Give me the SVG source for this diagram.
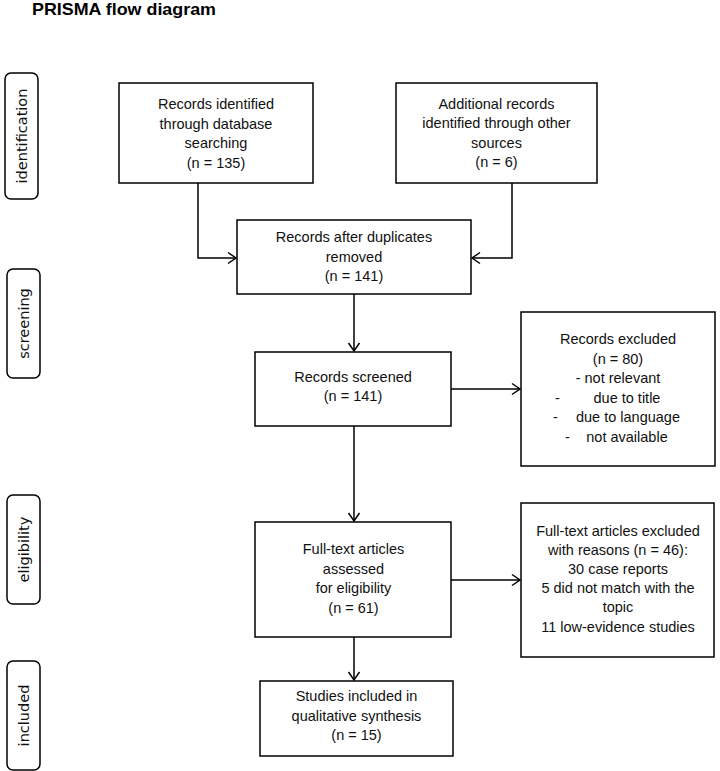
<svg xmlns="http://www.w3.org/2000/svg" width="720" height="771" viewBox="0 0 720 771">
<style>
.bg{fill:#fff}
.box{fill:#fff;stroke:#000;stroke-width:1.5}
.lab{fill:#fff;stroke:#000;stroke-width:1.5}
.t{font-family:"Liberation Sans",Arial,sans-serif;font-size:14.5px;fill:#111;text-anchor:middle}
.d{font-family:"Liberation Sans",Arial,sans-serif;font-size:14.5px;fill:#111}
.st{font-family:"DejaVu Sans",Verdana,sans-serif;font-size:14.5px;fill:#111;text-anchor:middle}
.title{font-family:"Liberation Sans",Arial,sans-serif;font-size:17px;font-weight:bold;fill:#000}
.c{fill:none;stroke:#000;stroke-width:1.5}
</style>
<defs>
<marker id="arr" markerWidth="12" markerHeight="14" viewBox="-10 -7 12 14" refX="0" refY="0" orient="auto" markerUnits="userSpaceOnUse">
<path d="M-8,-5.5 L0,0 L-8,5.5" fill="none" stroke="#000" stroke-width="1.5"/>
</marker>
</defs>
<rect class="bg" x="0" y="0" width="720" height="771"/>
<text class="title" x="32" y="15" textLength="184" lengthAdjust="spacingAndGlyphs">PRISMA flow diagram</text>

<g id="stage-identification">
<rect class="lab" x="5" y="73" width="33" height="126" rx="6"/>
<text class="st" transform="translate(27,136) rotate(-90)">identification</text>
</g>
<g id="stage-screening">
<rect class="lab" x="7" y="269" width="33" height="109" rx="6"/>
<text class="st" transform="translate(29,323.5) rotate(-90)">screening</text>
</g>
<g id="stage-eligibility">
<rect class="lab" x="7" y="495" width="33" height="109" rx="6"/>
<text class="st" transform="translate(29,549.5) rotate(-90)">eligibility</text>
</g>
<g id="stage-included">
<rect class="lab" x="7" y="661" width="33" height="109" rx="6"/>
<text class="st" transform="translate(29,715.5) rotate(-90)">included</text>
</g>

<g id="connectors">
<path class="c" d="M198,183 V258 H236" marker-end="url(#arr)"/>
<path class="c" d="M512,183 V258 H472" marker-end="url(#arr)"/>
<path class="c" d="M354,294 V351" marker-end="url(#arr)"/>
<path class="c" d="M451,389 H520" marker-end="url(#arr)"/>
<path class="c" d="M354,426 V521" marker-end="url(#arr)"/>
<path class="c" d="M451,580 H520" marker-end="url(#arr)"/>
<path class="c" d="M354,637 V680" marker-end="url(#arr)"/>
</g>

<g id="db-records">
<rect class="box" x="119" y="83" width="194" height="100"/>
<text class="t" x="216" y="109">Records identified</text>
<text class="t" x="216" y="128.5">through database</text>
<text class="t" x="216" y="148">searching</text>
<text class="t" x="216" y="167.5">(n = 135)</text>
</g>
<g id="other-records">
<rect class="box" x="396" y="83" width="201" height="100"/>
<text class="t" x="496.5" y="108.5">Additional records</text>
<text class="t" x="496.5" y="128">identified through other</text>
<text class="t" x="496.5" y="147.5">sources</text>
<text class="t" x="496.5" y="167">(n = 6)</text>
</g>
<g id="after-duplicates">
<rect class="box" x="237" y="220" width="234" height="74"/>
<text class="t" x="354" y="242">Records after duplicates</text>
<text class="t" x="354" y="261.5">removed</text>
<text class="t" x="354" y="281">(n = 141)</text>
</g>
<g id="screened">
<rect class="box" x="255" y="352" width="196" height="74"/>
<text class="t" x="353" y="381.5">Records screened</text>
<text class="t" x="353" y="400.5">(n = 141)</text>
</g>
<g id="excluded">
<rect class="box" x="521" y="312" width="194" height="154"/>
<text class="t" x="618" y="344">Records excluded</text>
<text class="t" x="618" y="363.5">(n = 80)</text>
<text class="t" x="618" y="383">- not relevant</text>
<text class="d" x="555" y="402.5">-</text>
<text class="t" x="627" y="402.5">due to title</text>
<text class="d" x="553" y="422">-</text>
<text class="t" x="628" y="422">due to language</text>
<text class="d" x="565" y="441.5">-</text>
<text class="t" x="627" y="441.5">not available</text>
</g>
<g id="fulltext">
<rect class="box" x="255" y="522" width="196" height="115"/>
<text class="t" x="353.5" y="554">Full-text articles</text>
<text class="t" x="353.5" y="573.5">assessed</text>
<text class="t" x="353.5" y="593">for eligibility</text>
<text class="t" x="353.5" y="612.5">(n = 61)</text>
</g>
<g id="fulltext-excluded">
<rect class="box" x="521" y="503" width="193" height="154"/>
<text class="t" x="618" y="536">Full-text articles excluded</text>
<text class="t" x="618" y="555">with reasons (n = 46):</text>
<text class="t" x="618" y="574">30 case reports</text>
<text class="t" x="618" y="593">5 did not match with the</text>
<text class="t" x="618" y="612">topic</text>
<text class="t" x="618" y="631.5">11 low-evidence studies</text>
</g>
<g id="included-studies">
<rect class="box" x="260" y="681" width="193" height="75"/>
<text class="t" x="356.5" y="701">Studies included in</text>
<text class="t" x="356.5" y="720.5">qualitative synthesis</text>
<text class="t" x="356.5" y="740">(n = 15)</text>
</g>
</svg>
